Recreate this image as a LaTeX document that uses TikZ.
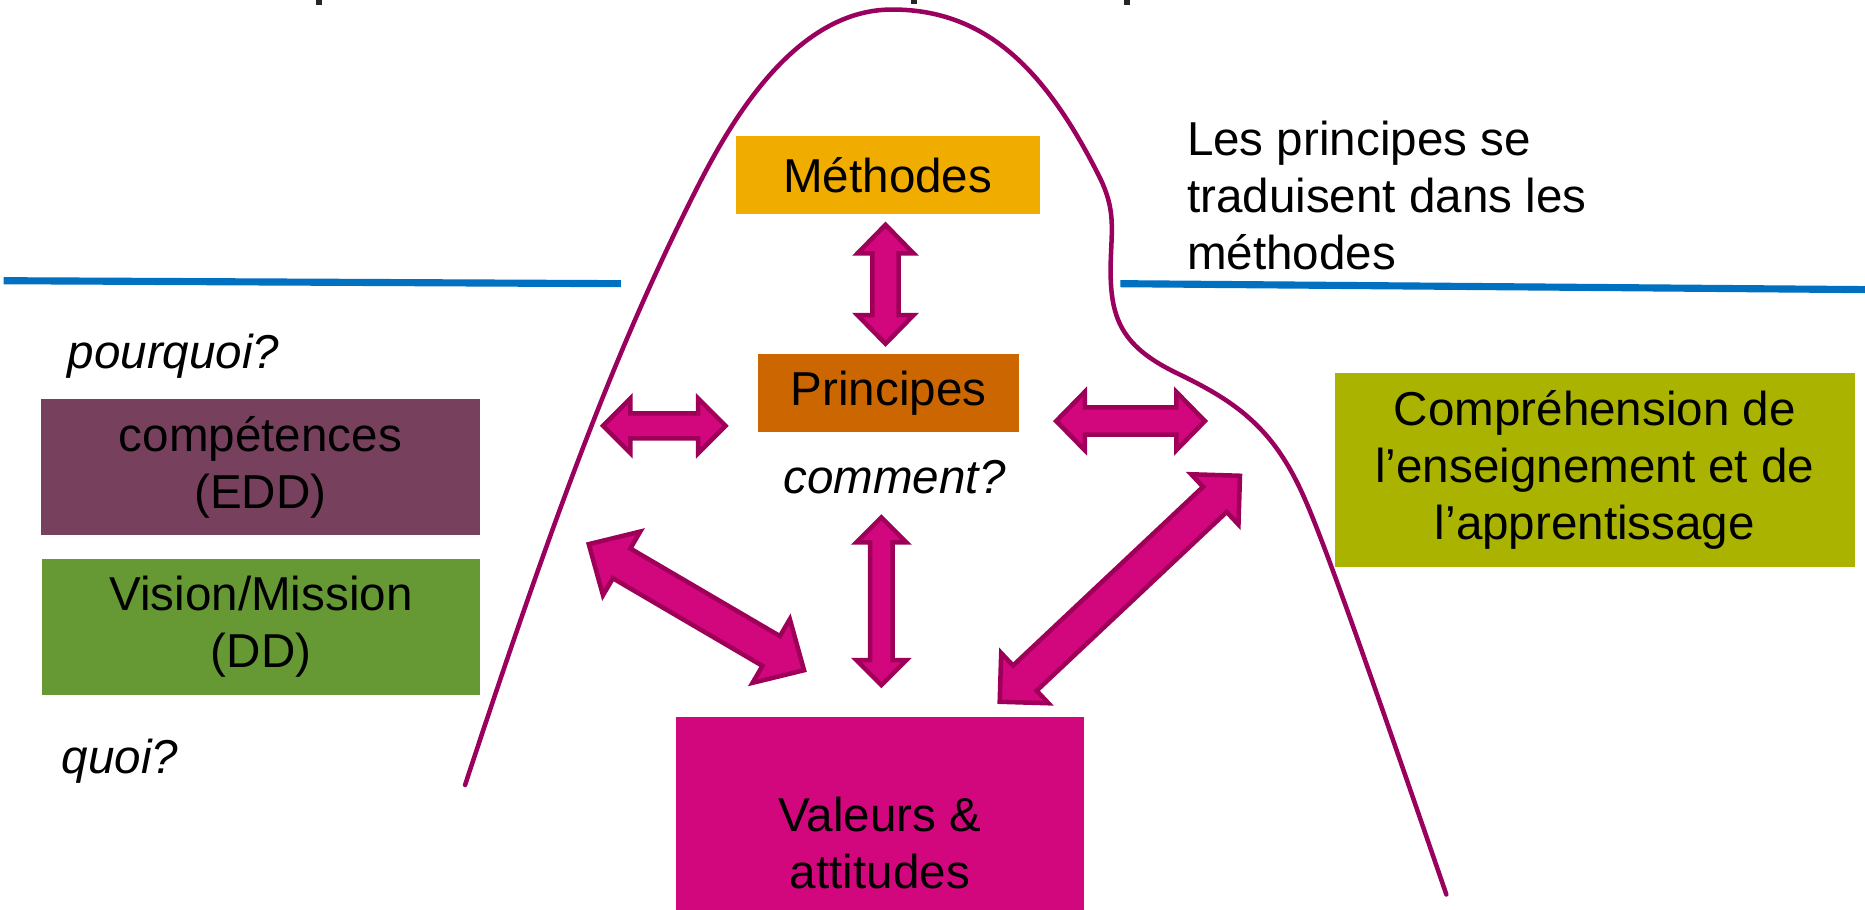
\documentclass[tikz,border=0pt]{standalone}
\usepackage{fontspec}
\setmainfont{Liberation Sans}
\usetikzlibrary{calc}
\definecolor{methc}{HTML}{F0AD00}
\definecolor{princc}{HTML}{CC6600}
\definecolor{compc}{HTML}{77405D}
\definecolor{visc}{HTML}{669933}
\definecolor{comprc}{HTML}{AAB400}
\definecolor{valc}{HTML}{D2077D}
\definecolor{arrfill}{HTML}{D2077D}
\definecolor{arrline}{HTML}{9E0059}
\definecolor{curvec}{HTML}{9A005E}
\definecolor{bluec}{HTML}{0070C0}
\tikzset{
  every node/.style={inner sep=0pt, outer sep=0pt, font=\fontsize{40}{48}\selectfont},
  boxnode/.style={rectangle, draw=none, align=center, text=black},
  blockarr/.style={fill=arrfill, draw=arrline, line width=3.8pt, line join=miter},
  hill/.style={draw=curvec, line width=3.8pt, line cap=round, line join=round},
  sepline/.style={draw=bluec, line width=6pt},
  question/.style={font=\fontsize{40}{48}\selectfont\itshape}
}
\newcommand\blockarrow[5]{%
  \filldraw[blockarr] (#1)
    -- ($(#1)!#3!(#2)!#4!90:(#2)$) -- ($(#1)!#3!(#2)!#5!90:(#2)$)
    -- ($(#2)!#3!(#1)!#5!-90:(#1)$) -- ($(#2)!#3!(#1)!#4!-90:(#1)$)
    -- (#2)
    -- ($(#2)!#3!(#1)!#4!90:(#1)$) -- ($(#2)!#3!(#1)!#5!90:(#1)$)
    -- ($(#1)!#3!(#2)!#5!-90:(#2)$) -- ($(#1)!#3!(#2)!#4!-90:(#2)$)
    -- cycle;}
\begin{document}
\begin{tikzpicture}[x=1pt, y=-1pt]
\useasboundingbox (0,0) rectangle (1568,765);
\clip (0,0) rectangle (1568,765);
\fill[white] (0,0) rectangle (1568,765);

% remnants of a cropped title
\fill[black!85] (266,0) rectangle (271,4);
\fill[black!85] (766,0) rectangle (771,3);
\fill[black!85] (945,0) rectangle (950,4);

% separator lines
\draw[sepline] (3,236) -- (522,238.5);
\draw[sepline] (942,238.5) -- (1568,243.5);

% hill curve
\draw[hill] (391,660)
  .. controls (470,420) and (520,290) .. (581,168)
  .. controls (606,118) and (662,8) .. (750,8)
  .. controls (830,8) and (880,60) .. (925,150)
  .. controls (937,175) and (935,190) .. (934,215)
  .. controls (932,265) and (940,290) .. (990,314)
  .. controls (1040,338) and (1070,360) .. (1095,415)
  .. controls (1112,452) and (1150,560) .. (1216,752);

% boxes
\node[boxnode, fill=methc, minimum width=255.6pt, minimum height=65.4pt] (meth) at (746.4,147) {Méthodes};
\node[boxnode, fill=princc, minimum width=219.2pt, minimum height=65.3pt] (princ) at (747,330.25) {Principes};
\node[boxnode, fill=compc, minimum width=369.1pt, minimum height=114.3pt] (comp) at (219,392.65) {compétences\\(EDD)};
\node[boxnode, fill=visc, minimum width=368.1pt, minimum height=114.3pt] (vis) at (219.45,527.15) {Vision/Mission\\(DD)};
\node[boxnode, fill=comprc, minimum width=437.4pt, minimum height=162.8pt] (compr) at (1340.9,395) {Compréhension de\\l’enseignement et de\\l’apprentissage};
\node[boxnode, fill=valc, minimum width=343.1pt, minimum height=211.2pt] (val) at (739.75,708.4) {Valeurs \&\\attitudes};

% free texts
\node[anchor=north west, align=left] (note) at (998,101.5) {Les principes se\\traduisent dans les\\méthodes};
\node[question, anchor=base west] (why) at (57,310) {pourquoi?};
\node[question, anchor=base west] (what) at (52,650) {quoi?};
\node[question, anchor=base] (how) at (752,415) {comment?};

% arrow end points
\coordinate (a1s) at (744.5,189);
\coordinate (a1e) at (744.5,289);
\coordinate (a2s) at (507,358);
\coordinate (a2e) at (610,358);
\coordinate (a3s) at (888,354);
\coordinate (a3e) at (1013,354);
\coordinate (a4s) at (741,435);
\coordinate (a4e) at (741,576);
\coordinate (a5s) at (495,457.5);
\coordinate (a5e) at (676,563.5);
\coordinate (a6s) at (1042.5,400);
\coordinate (a6e) at (840.5,590);

\blockarrow{a1s}{a1e}{24pt}{23.5pt}{11pt}
\blockarrow{a2s}{a2e}{23pt}{23pt}{10.5pt}
\blockarrow{a3s}{a3e}{24pt}{24.5pt}{11.5pt}
\blockarrow{a4s}{a4e}{21pt}{21pt}{9.5pt}
\blockarrow{a5s}{a5e}{32pt}{31pt}{14.5pt}
\blockarrow{a6s}{a6e}{29pt}{29pt}{14.5pt}
\end{tikzpicture}
\end{document}
